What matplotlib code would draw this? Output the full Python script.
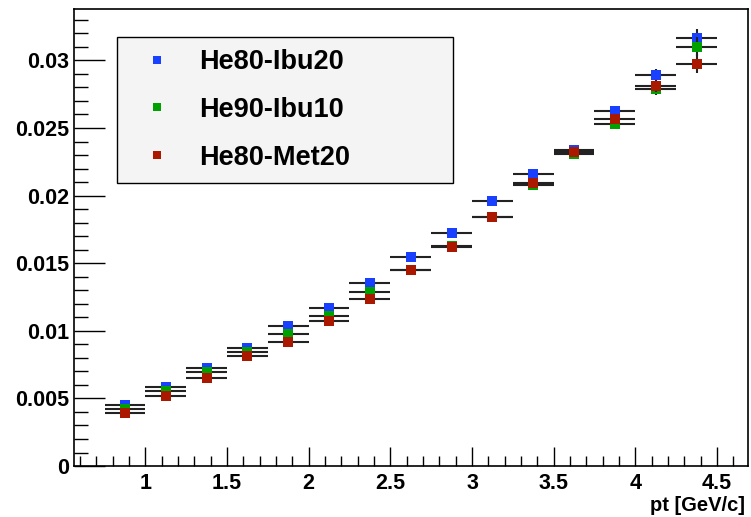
import numpy as np
import matplotlib
matplotlib.use("Agg")
import matplotlib.pyplot as plt
from matplotlib.lines import Line2D
from matplotlib.ticker import MultipleLocator

# --- Data ---
pt = [0.875, 1.125, 1.375, 1.625, 1.875, 2.125, 2.375, 2.625,
      2.875, 3.125, 3.375, 3.625, 3.875, 4.125, 4.375]
pt_err = [0.125] * 15

labels = ["He80-Ibu20", "He90-Ibu10", "He80-Met20"]
colors = ["#1a40ff", "#00a000", "#aa1800"]

he80_ibu20 = [0.00455, 0.00588, 0.00725, 0.00873, 0.01033, 0.01165, 0.01355, 0.01547,
              0.01720, 0.01957, 0.02156, 0.02340, 0.02628, 0.02893, 0.03165]
he90_ibu10 = [0.00425, 0.00555, 0.00695, 0.00845, 0.00975, 0.01110, 0.01290, 0.01450,
              0.01630, 0.01845, 0.02080, 0.02310, 0.02530, 0.02790, 0.03100]
he80_met20 = [0.00390, 0.00520, 0.00650, 0.00810, 0.00920, 0.01073, 0.01233, 0.01448,
              0.01620, 0.01842, 0.02090, 0.02326, 0.02563, 0.02810, 0.02975]

he80_ibu20_err = [0.0001, 0.0001, 0.0001, 0.0001, 0.0001, 0.00012, 0.00013, 0.00015,
                  0.00017, 0.0002, 0.00022, 0.00025, 0.0003, 0.00045, 0.0007]
he90_ibu10_err = [0.0001, 0.0001, 0.0001, 0.0001, 0.0001, 0.00012, 0.00013, 0.00015,
                  0.00017, 0.0002, 0.00022, 0.00025, 0.00035, 0.00045, 0.0007]
he80_met20_err = [0.0001, 0.0001, 0.0001, 0.0001, 0.0001, 0.00012, 0.00013, 0.00015,
                  0.00017, 0.0002, 0.00022, 0.00025, 0.0003, 0.00045, 0.0007]

series = [he80_ibu20, he90_ibu10, he80_met20]
series_err = [he80_ibu20_err, he90_ibu10_err, he80_met20_err]

plt.rcParams['font.family'] = ['Liberation Sans', 'DejaVu Sans']
plt.rcParams['font.weight'] = 'bold'

fig = plt.figure(figsize=(7.51, 5.17), dpi=100)
ax = fig.add_axes([0.0985, 0.0986, 0.8975, 0.884])

for i, (y, yerr) in enumerate(zip(series, series_err)):
    ax.errorbar(pt, y, xerr=pt_err, yerr=yerr, fmt='s', color=colors[i],
                markersize=7, markeredgewidth=0, ecolor='#222222',
                elinewidth=1.5, capsize=3, capthick=1.5, zorder=3 + i)

ax.set_xlim(0.563, 4.69)
ax.set_ylim(0, 0.0338)

ax.xaxis.set_major_locator(MultipleLocator(0.5))
ax.xaxis.set_minor_locator(MultipleLocator(0.1))
ax.yaxis.set_major_locator(MultipleLocator(0.005))
ax.yaxis.set_minor_locator(MultipleLocator(0.001))
ax.xaxis.set_major_formatter(plt.FuncFormatter(lambda v, p: f"{v:g}"))
ax.yaxis.set_major_formatter(plt.FuncFormatter(lambda v, p: f"{v:g}"))

ax.tick_params(axis='both', which='both', direction='in', labelsize=15.5, width=1)
ax.tick_params(axis='y', which='major', length=22, pad=3.5)
ax.tick_params(axis='y', which='minor', length=10)
ax.tick_params(axis='x', which='major', length=14, pad=5)
ax.tick_params(axis='x', which='minor', length=7)
for s in ax.spines.values():
    s.set_linewidth(1.2)

# axis title sits right-aligned under the tick labels, as in ROOT
fig.text(745 / 751, 1 - 511 / 517, "pt [GeV/c]", fontsize=14.5, fontweight='bold',
         ha='right', va='baseline')

handles = [Line2D([], [], ls='none', marker='s', markersize=6, markeredgewidth=0, color=c)
           for c in colors]
leg = ax.legend(handles, labels, loc='upper left',
                bbox_to_anchor=(0.0638, 0.9387, 0.4985, 0.0),
                mode='expand', borderaxespad=0, fontsize=19.5, handlelength=2.08,
                handletextpad=0.5, labelspacing=0.8, borderpad=0.45,
                fancybox=False, framealpha=1, edgecolor='black')
leg.get_frame().set_facecolor('#f4f4f4')
leg.get_frame().set_linewidth(1)

fig.savefig("out.png", dpi=100)
